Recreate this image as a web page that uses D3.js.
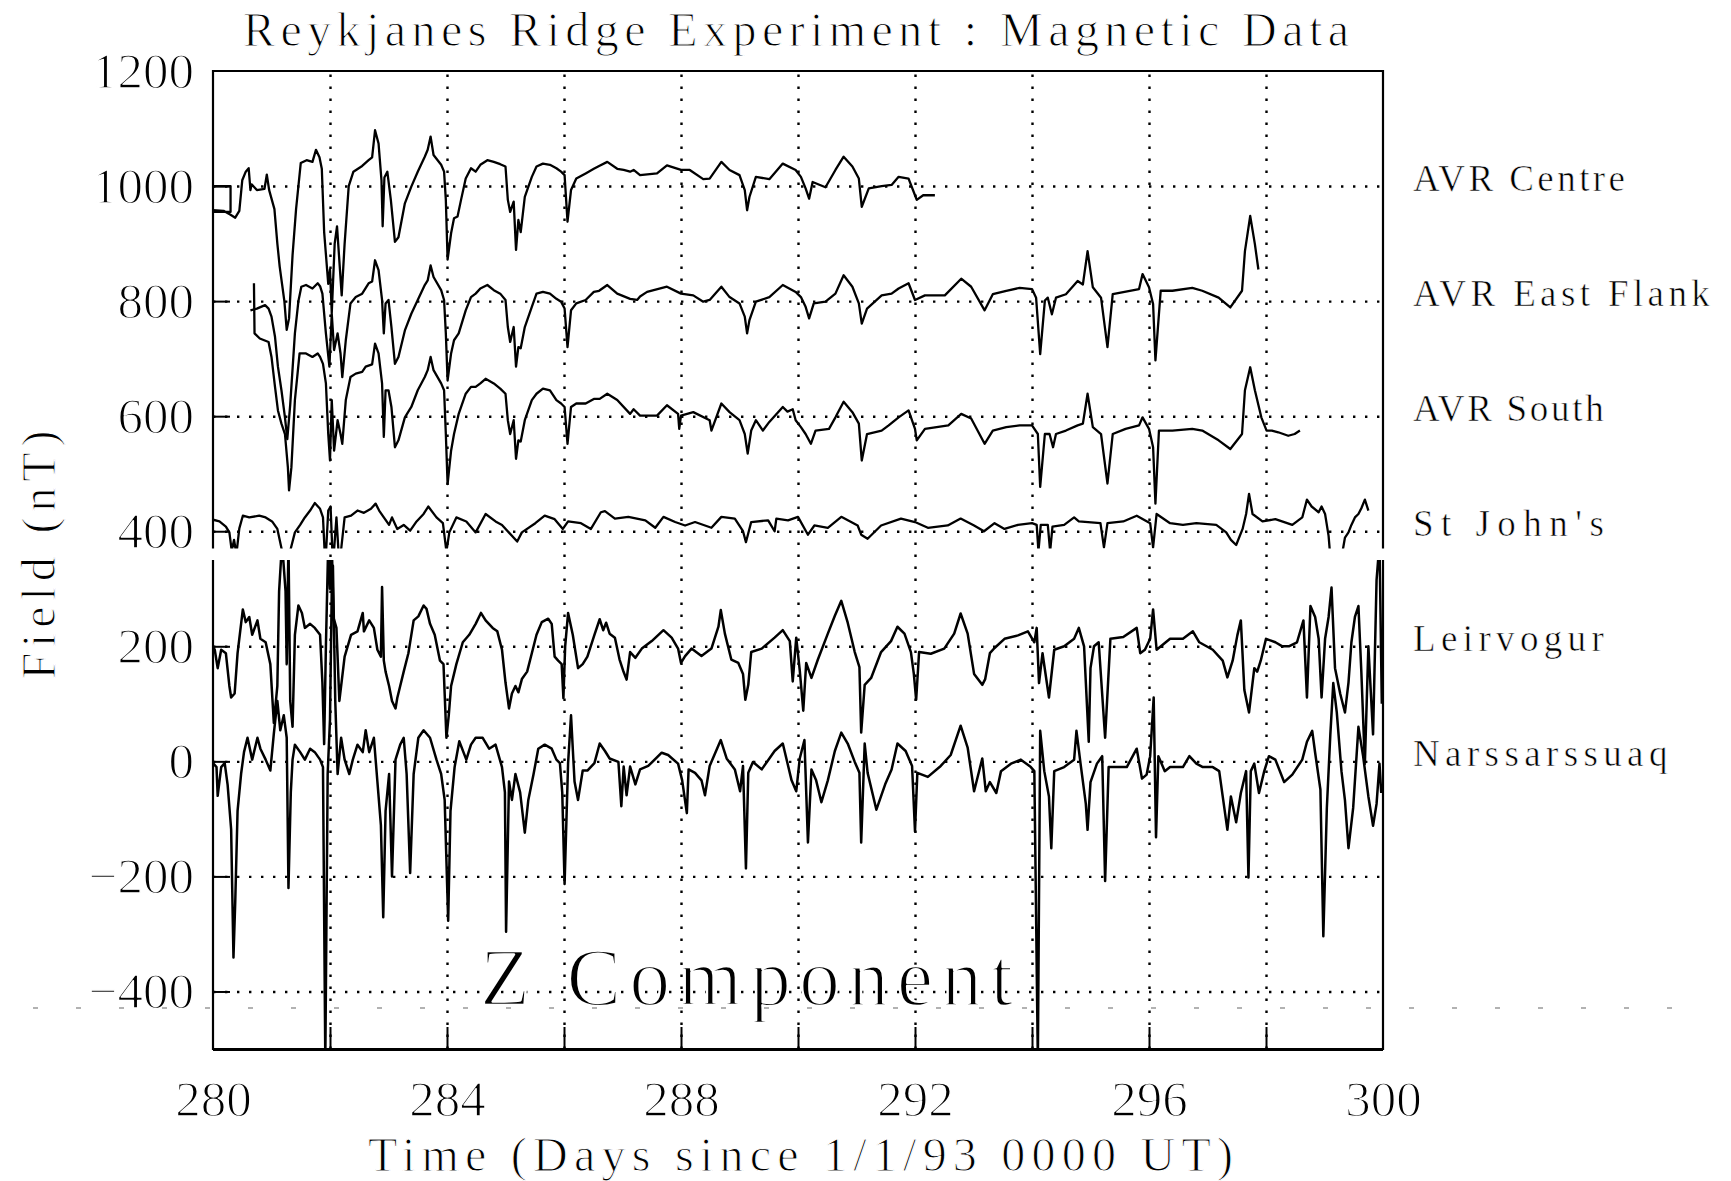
<!DOCTYPE html>
<html>
<head>
<meta charset="utf-8">
<script src="https://cdn.jsdelivr.net/npm/d3@7"></script>
<style>
  body { margin: 0; background: #fff; }
  text { fill: #000; }
</style>
</head>
<body>
<script>
// chart values, [day, nT]
var avrCentre = [[280.0,1000],[280.3,1000],[280.3,955],[280.0,955],[280.0,958],[280.18,957],[280.3,950],[280.38,945],[280.45,957],[280.5,1010],[280.56,1025],[280.61,1031],[280.64,993],[280.66,1003],[280.75,993],[280.88,995],[280.92,1020],[280.96,993],[281.05,960],[281.1,900],[281.14,860],[281.18,830],[281.22,800],[281.26,750],[281.3,770],[281.36,880],[281.42,960],[281.5,1040],[281.6,1045],[281.7,1042],[281.76,1063],[281.82,1050],[281.86,1030],[281.9,920],[281.97,830],[282.0,855],[282.03,780],[282.08,900],[282.12,930],[282.16,870],[282.2,810],[282.25,900],[282.32,1000],[282.4,1025],[282.55,1035],[282.66,1045],[282.72,1050],[282.77,1097],[282.83,1074],[282.88,1010],[282.9,930],[282.93,1015],[282.98,1025],[283.04,976],[283.11,903],[283.17,911],[283.28,970],[283.39,999],[283.5,1025],[283.62,1051],[283.67,1063],[283.72,1086],[283.77,1054],[283.9,1037],[283.95,1025],[283.98,976],[284.01,872],[284.07,918],[284.12,944],[284.18,947],[284.24,976],[284.32,1013],[284.41,1031],[284.49,1025],[284.57,1037],[284.69,1045],[284.8,1042],[284.91,1038],[285.0,1034],[285.04,976],[285.08,955],[285.14,973],[285.18,889],[285.22,941],[285.26,920],[285.33,981],[285.45,1016],[285.53,1034],[285.64,1039],[285.76,1037],[285.87,1031],[285.95,1025],[286.01,1019],[286.06,938],[286.12,993],[286.21,1013],[286.37,1022],[286.51,1030],[286.6,1035],[286.74,1042],[286.91,1030],[287.02,1028],[287.13,1025],[287.19,1028],[287.3,1019],[287.59,1022],[287.76,1036],[288.0,1028],[288.15,1028],[288.38,1012],[288.49,1013],[288.69,1042],[288.83,1028],[289.0,1019],[289.09,993],[289.13,958],[289.17,981],[289.28,1016],[289.51,1012],[289.74,1039],[289.96,1028],[290.05,1016],[290.13,996],[290.19,978],[290.25,1007],[290.47,998],[290.64,1028],[290.78,1051],[290.93,1034],[291.04,1013],[291.09,964],[291.21,996],[291.43,1000],[291.6,1002],[291.72,1016],[291.89,1013],[292.0,984],[292.03,976],[292.14,984],[292.34,984]];

var avrEastFlank = [[280.64,784],[280.75,787],[280.89,793],[280.95,787],[281.0,773],[281.06,738],[281.11,686],[281.17,645],[281.23,598],[281.27,560],[281.32,620],[281.4,744],[281.46,800],[281.51,825],[281.59,828],[281.7,822],[281.79,831],[281.83,826],[281.87,813],[281.93,744],[281.99,686],[282.03,778],[282.07,715],[282.13,744],[282.18,709],[282.21,668],[282.27,732],[282.35,796],[282.44,807],[282.55,813],[282.66,831],[282.72,834],[282.77,871],[282.83,854],[282.89,802],[282.92,744],[282.95,796],[283.0,802],[283.05,755],[283.11,691],[283.17,703],[283.28,749],[283.39,778],[283.5,802],[283.62,828],[283.67,836],[283.72,862],[283.77,842],[283.9,819],[283.95,802],[283.98,744],[284.01,662],[284.07,709],[284.12,732],[284.2,744],[284.32,784],[284.41,807],[284.49,813],[284.57,822],[284.69,828],[284.8,819],[284.91,813],[285.0,802],[285.04,755],[285.08,729],[285.14,755],[285.18,686],[285.22,720],[285.26,718],[285.33,755],[285.45,790],[285.53,813],[285.64,816],[285.76,813],[285.87,804],[285.95,799],[286.01,787],[286.06,720],[286.12,784],[286.21,796],[286.37,802],[286.51,816],[286.6,818],[286.74,828],[286.91,813],[287.13,804],[287.25,802],[287.3,808],[287.42,816],[287.76,825],[288.0,813],[288.21,810],[288.38,799],[288.49,802],[288.69,825],[288.83,807],[289.0,796],[289.09,773],[289.13,744],[289.17,767],[289.28,799],[289.51,807],[289.74,828],[289.96,816],[290.05,807],[290.13,790],[290.19,770],[290.27,796],[290.47,799],[290.64,813],[290.78,845],[290.93,825],[291.04,796],[291.09,761],[291.18,787],[291.43,810],[291.6,813],[291.72,822],[291.89,831],[292.0,802],[292.17,810],[292.51,810],[292.79,839],[292.96,825],[293.19,784],[293.33,812],[293.56,818],[293.79,823],[294.0,821],[294.07,806],[294.14,708],[294.22,801],[294.27,806],[294.34,777],[294.41,806],[294.58,812],[294.78,835],[294.87,829],[294.95,887],[295.04,824],[295.18,806],[295.29,720],[295.38,812],[295.83,821],[295.89,847],[296.0,824],[296.07,795],[296.11,697],[296.2,818],[296.4,818],[296.74,823],[296.91,818],[297.19,806],[297.39,789],[297.59,818],[297.64,887],[297.73,948],[297.81,899],[297.87,855]];

var avrSouth = [[280.7,831],[280.71,744],[280.8,735],[280.95,729],[281.0,703],[281.06,651],[281.11,610],[281.17,587],[281.23,569],[281.28,511],[281.3,471],[281.34,511],[281.4,628],[281.48,709],[281.59,709],[281.7,703],[281.79,709],[281.83,703],[281.88,691],[281.93,657],[281.97,569],[282.0,523],[282.03,628],[282.07,540],[282.13,593],[282.18,569],[282.21,552],[282.27,628],[282.35,668],[282.44,674],[282.55,677],[282.61,686],[282.72,690],[282.77,726],[282.83,709],[282.89,657],[282.92,564],[282.95,645],[283.0,645],[283.05,616],[283.11,546],[283.17,558],[283.28,598],[283.39,616],[283.5,645],[283.62,668],[283.67,680],[283.72,703],[283.77,680],[283.9,657],[283.95,645],[283.98,569],[284.01,482],[284.07,540],[284.12,569],[284.2,604],[284.32,639],[284.41,651],[284.49,651],[284.57,657],[284.66,665],[284.8,657],[284.91,648],[285.0,639],[285.04,593],[285.08,569],[285.14,593],[285.18,526],[285.22,558],[285.26,556],[285.33,593],[285.45,628],[285.53,639],[285.64,648],[285.76,645],[285.87,628],[285.95,622],[286.01,616],[286.06,552],[286.12,616],[286.21,622],[286.37,622],[286.51,630],[286.61,630],[286.74,639],[286.91,628],[287.13,604],[287.19,612],[287.3,601],[287.59,601],[287.76,619],[287.95,604],[287.97,578],[288.0,601],[288.21,607],[288.49,593],[288.52,575],[288.69,622],[288.83,607],[289.0,593],[289.09,569],[289.14,535],[289.2,575],[289.28,593],[289.4,575],[289.51,590],[289.74,616],[289.82,608],[289.91,612],[289.96,593],[290.05,581],[290.13,569],[290.22,552],[290.3,575],[290.53,578],[290.64,598],[290.78,625],[290.93,607],[291.04,587],[291.09,523],[291.18,569],[291.43,575],[291.55,584],[291.72,598],[291.89,610],[292.0,578],[292.03,558],[292.17,578],[292.57,584],[292.79,604],[292.96,596],[293.19,552],[293.33,575],[293.56,581],[293.79,584],[294.0,584],[294.1,569],[294.14,477],[294.22,569],[294.3,569],[294.36,546],[294.41,569],[294.58,575],[294.78,584],[294.87,587],[294.95,639],[295.04,581],[295.18,569],[295.29,483],[295.38,569],[295.6,578],[295.83,584],[295.89,598],[296.0,578],[296.07,546],[296.11,448],[296.17,575],[296.4,575],[296.74,578],[296.91,575],[297.19,558],[297.39,543],[297.59,569],[297.64,645],[297.73,685],[297.81,645],[297.92,598],[298.01,575],[298.1,575],[298.21,572],[298.38,566],[298.49,569],[298.58,575]];

var stJohns = [[280.0,420],[280.11,417],[280.22,408],[280.28,398],[280.32,366],[280.36,385],[280.4,360],[280.45,405],[280.51,427],[280.62,424],[280.79,427],[280.9,424],[281.01,417],[281.1,404],[281.18,366],[281.24,355],[281.32,366],[281.4,398],[281.49,411],[281.57,424],[281.66,436],[281.74,449],[281.83,439],[281.88,424],[281.92,340],[281.97,436],[282.01,443],[282.05,340],[282.11,424],[282.16,340],[282.25,424],[282.36,427],[282.47,436],[282.58,432],[282.7,439],[282.78,448],[282.84,436],[282.92,424],[283.01,411],[283.06,424],[283.15,404],[283.26,411],[283.37,401],[283.48,417],[283.6,430],[283.68,443],[283.82,424],[283.93,414],[283.99,365],[284.04,398],[284.16,424],[284.33,417],[284.49,398],[284.66,430],[284.83,417],[284.94,411],[285.2,382],[285.28,398],[285.51,414],[285.67,427],[285.84,421],[285.98,404],[286.07,417],[286.29,414],[286.46,404],[286.63,433],[286.7,435],[286.87,422],[287.1,425],[287.39,419],[287.56,406],[287.7,425],[287.9,416],[288.07,410],[288.24,416],[288.52,406],[288.69,425],[288.92,422],[289.06,400],[289.11,381],[289.2,416],[289.49,419],[289.6,400],[289.63,422],[289.83,419],[290.0,425],[290.17,394],[290.28,410],[290.51,406],[290.74,425],[291.02,410],[291.08,394],[291.19,387],[291.42,410],[291.76,422],[292.0,416],[292.22,406],[292.56,410],[292.78,422],[293.01,410],[293.18,400],[293.36,414],[293.53,404],[293.76,411],[294.0,414],[294.08,411],[294.11,365],[294.15,411],[294.27,411],[294.31,365],[294.35,408],[294.55,411],[294.72,424],[294.8,417],[295.17,414],[295.23,372],[295.29,414],[295.56,417],[295.79,427],[296.02,414],[296.07,372],[296.13,430],[296.36,414],[296.58,411],[296.81,414],[297.15,411],[297.32,398],[297.4,385],[297.49,376],[297.6,404],[297.66,430],[297.71,465],[297.77,430],[297.94,417],[298.16,421],[298.45,411],[298.62,424],[298.7,455],[298.78,443],[298.9,433],[298.95,443],[299.01,430],[299.07,392],[299.12,330],[299.2,340],[299.3,360],[299.35,389],[299.41,398],[299.46,411],[299.52,424],[299.58,430],[299.63,440],[299.69,455],[299.75,436]];

var leirvogur = [[280.0,200],[280.03,194],[280.08,162],[280.14,194],[280.22,188],[280.28,131],[280.31,111],[280.37,118],[280.42,188],[280.51,264],[280.56,242],[280.62,251],[280.67,220],[280.76,245],[280.81,213],[280.9,207],[280.98,169],[281.04,67],[281.1,131],[281.13,296],[281.18,380],[281.24,296],[281.26,169],[281.29,380],[281.32,105],[281.36,60],[281.4,220],[281.46,271],[281.52,258],[281.57,232],[281.66,239],[281.74,232],[281.83,220],[281.87,137],[281.9,30],[281.93,200],[281.97,380],[282.0,300],[282.03,380],[282.06,250],[282.11,232],[282.16,105],[282.25,182],[282.36,220],[282.47,226],[282.56,258],[282.58,226],[282.67,245],[282.75,232],[282.81,194],[282.87,182],[282.89,303],[282.92,175],[282.95,156],[283.01,131],[283.06,105],[283.12,92],[283.15,110],[283.2,131],[283.26,156],[283.34,188],[283.43,245],[283.51,252],[283.6,271],[283.65,265],[283.71,239],[283.79,220],[283.88,175],[283.94,169],[283.99,41],[284.03,80],[284.07,131],[284.16,169],[284.27,207],[284.38,220],[284.49,239],[284.58,258],[284.66,245],[284.78,232],[284.86,226],[284.94,194],[285.0,137],[285.06,92],[285.11,118],[285.17,131],[285.22,120],[285.28,143],[285.37,156],[285.45,188],[285.53,220],[285.62,242],[285.73,248],[285.79,239],[285.84,182],[285.9,175],[285.96,169],[285.99,110],[286.02,200],[286.07,258],[286.15,220],[286.24,162],[286.32,169],[286.4,182],[286.52,220],[286.61,247],[286.67,228],[286.72,241],[286.78,222],[286.87,215],[286.95,177],[287.01,158],[287.07,142],[287.13,190],[287.22,180],[287.33,196],[287.5,209],[287.7,228],[287.84,215],[287.95,196],[288.0,171],[288.07,183],[288.18,196],[288.35,183],[288.52,196],[288.64,234],[288.68,263],[288.75,222],[288.86,177],[288.98,171],[289.06,152],[289.1,107],[289.15,133],[289.2,190],[289.38,196],[289.6,215],[289.74,228],[289.86,209],[289.91,139],[289.97,215],[290.03,158],[290.09,88],[290.14,171],[290.23,145],[290.34,177],[290.51,222],[290.63,253],[290.74,279],[290.85,241],[290.97,190],[291.05,164],[291.08,50],[291.14,133],[291.25,145],[291.42,190],[291.59,209],[291.7,234],[291.82,222],[291.93,190],[291.98,152],[292.02,107],[292.07,190],[292.27,187],[292.5,196],[292.67,222],[292.78,257],[292.9,222],[293.01,152],[293.15,133],[293.2,143],[293.28,188],[293.36,197],[293.53,213],[293.76,219],[293.93,226],[294.04,207],[294.08,232],[294.12,136],[294.18,188],[294.29,111],[294.38,194],[294.55,200],[294.72,213],[294.8,232],[294.89,200],[294.97,34],[295.0,162],[295.06,200],[295.14,207],[295.25,41],[295.34,213],[295.56,216],[295.79,232],[295.85,188],[295.93,194],[296.02,213],[296.07,264],[296.13,194],[296.36,213],[296.58,213],[296.75,226],[296.86,207],[297.09,194],[297.26,175],[297.34,146],[297.43,175],[297.51,219],[297.57,245],[297.63,124],[297.71,85],[297.8,162],[297.85,156],[297.91,175],[298.0,213],[298.16,207],[298.28,200],[298.39,200],[298.53,207],[298.64,245],[298.7,111],[298.76,270],[298.84,251],[298.9,213],[298.95,111],[299.01,213],[299.07,251],[299.12,302],[299.18,162],[299.27,117],[299.35,85],[299.41,137],[299.46,207],[299.52,251],[299.58,270],[299.63,155],[299.69,-4],[299.75,200],[299.83,47],[299.89,315],[299.94,380],[299.98,100]];

var narssarssuaq = [[280.0,-3],[280.06,-10],[280.08,-60],[280.14,-10],[280.2,-3],[280.25,-41],[280.31,-118],[280.35,-341],[280.38,-245],[280.42,-86],[280.48,-22],[280.53,16],[280.59,41],[280.67,3],[280.76,41],[280.81,22],[280.9,3],[280.98,-16],[281.04,48],[281.1,105],[281.15,54],[281.21,80],[281.26,41],[281.29,-220],[281.33,-54],[281.36,3],[281.4,29],[281.49,16],[281.57,3],[281.66,22],[281.74,16],[281.83,3],[281.88,-10],[281.92,-520],[281.96,-22],[282.0,73],[282.03,296],[282.05,340],[282.09,105],[282.13,-22],[282.19,41],[282.25,3],[282.33,-22],[282.39,3],[282.47,29],[282.56,16],[282.61,54],[282.67,16],[282.75,41],[282.81,-35],[282.87,-111],[282.91,-271],[282.95,-86],[283.01,-22],[283.06,-200],[283.12,3],[283.2,29],[283.26,41],[283.31,-22],[283.37,-194],[283.43,-22],[283.51,41],[283.6,54],[283.71,41],[283.82,3],[283.9,-22],[283.96,-67],[284.02,-277],[284.06,-86],[284.13,-10],[284.21,35],[284.33,3],[284.41,29],[284.49,41],[284.61,41],[284.72,22],[284.83,29],[284.94,-10],[284.99,-54],[285.01,-296],[285.06,-35],[285.11,-67],[285.17,-22],[285.25,-54],[285.33,-124],[285.39,-67],[285.48,-22],[285.56,22],[285.67,29],[285.79,22],[285.87,3],[285.93,-3],[285.97,-54],[286.01,-213],[286.07,-3],[286.12,80],[286.18,-35],[286.24,-67],[286.32,-16],[286.4,-16],[286.52,-3],[286.61,31],[286.7,18],[286.78,5],[286.93,-1],[286.98,-78],[287.02,-9],[287.07,-59],[287.13,-9],[287.22,-40],[287.3,-14],[287.44,-8],[287.67,15],[287.78,11],[287.95,-4],[288.02,-33],[288.1,-90],[288.13,-14],[288.24,-20],[288.35,-33],[288.41,-59],[288.49,-8],[288.68,37],[288.78,5],[288.92,-14],[289.01,-52],[289.06,-8],[289.11,-186],[289.15,-20],[289.23,-1],[289.38,-14],[289.6,18],[289.74,31],[289.89,-33],[289.97,-52],[290.03,5],[290.11,37],[290.17,-141],[290.23,-14],[290.31,-33],[290.4,-71],[290.51,-33],[290.63,18],[290.74,50],[290.85,31],[290.97,-1],[291.05,-20],[291.08,-141],[291.14,31],[291.19,-20],[291.34,-84],[291.49,-40],[291.6,-14],[291.7,31],[291.84,18],[291.95,-8],[292.0,-122],[292.04,-20],[292.22,-27],[292.44,-8],[292.61,11],[292.78,62],[292.9,24],[293.01,-52],[293.15,5],[293.21,-52],[293.28,-36],[293.39,-55],[293.47,-17],[293.64,-4],[293.81,3],[293.98,-10],[294.04,-17],[294.1,-520],[294.14,53],[294.21,-17],[294.29,-61],[294.33,-151],[294.38,-17],[294.55,-10],[294.72,3],[294.76,53],[294.83,-4],[294.92,-74],[294.95,-119],[295.0,-36],[295.11,-4],[295.2,9],[295.25,-208],[295.31,-10],[295.45,-10],[295.62,-10],[295.79,22],[295.88,-30],[295.96,-23],[296.02,9],[296.08,111],[296.12,-132],[296.16,9],[296.27,-17],[296.36,-10],[296.58,-10],[296.69,9],[296.81,-4],[296.92,-10],[297.09,-10],[297.2,-17],[297.26,-61],[297.34,-119],[297.4,-61],[297.49,-106],[297.57,-55],[297.66,-17],[297.7,-202],[297.74,-17],[297.8,-4],[297.88,-55],[297.97,-17],[298.05,9],[298.16,3],[298.31,-36],[298.45,-23],[298.62,3],[298.7,34],[298.79,53],[298.84,15],[298.93,-49],[298.98,-304],[299.04,-81],[299.1,47],[299.15,136],[299.21,85],[299.29,-17],[299.35,-68],[299.41,-151],[299.49,-81],[299.58,60],[299.66,9],[299.75,-61],[299.83,-112],[299.89,-74],[299.94,-4],[299.97,-55]];

// station labels and the level each one sits at
var stationNames = ["AVR Centre", "AVR East Flank", "AVR South", "St John's", "Leirvogur", "Narssarssuaq"];
var stationLevels = [1000, 800, 600, 400, 200, 0];

// ticks
var xTickLabels = [280, 284, 288, 292, 296, 300];
var xGridDays = [282, 284, 286, 288, 290, 292, 294, 296, 298];
var yTickLabels = [1200, 1000, 800, 600, 400, 200, 0, -200, -400];
var yGridValues = [1000, 800, 600, 400, 200, 0, -200, -400];

// the two stacked panels: upper clipped at 370 nT, lower at 350 nT
var upperFloor = 370, lowerCeiling = 350;

var serif = "'Liberation Serif', 'DejaVu Serif', serif";

// set the dimensions of the graph
var W = 1731, H = 1181;
var plot = {left: 213, right: 1383, top: 71, bottom: 1049};

// set the ranges
var x = d3.scaleLinear().domain([280, 300]).range([plot.left, plot.right]);
var y = d3.scaleLinear().domain([-500, 1200]).range([plot.bottom, plot.top]);

var svg = d3.select("body").append("svg")
    .attr("width", W)
    .attr("height", H);

// thin the glyphs a bit, the original was drawn with a pen font
function thin(sel, w) {
  sel.attr("stroke", "#fff").attr("stroke-width", w).attr("stroke-linejoin", "round");
}

var defs = svg.append("defs");
defs.append("clipPath").attr("id", "clipUpper")
  .append("rect")
    .attr("x", plot.left).attr("y", plot.top)
    .attr("width", plot.right - plot.left)
    .attr("height", y(upperFloor) - plot.top);
defs.append("clipPath").attr("id", "clipLower")
  .append("rect")
    .attr("x", plot.left).attr("y", y(lowerCeiling))
    .attr("width", plot.right - plot.left)
    .attr("height", plot.bottom - y(lowerCeiling));

// dotted grid, vertical
var gx = svg.append("g")
    .attr("transform", "translate(0," + plot.bottom + ")")
    .call(d3.axisBottom(x).tickValues(xGridDays).tickSize(-(plot.bottom - plot.top)).tickFormat(""));
gx.select(".domain").remove();
gx.selectAll("line").attr("stroke", "#000").attr("stroke-width", 2.4).attr("stroke-dasharray", "2.4,9.6");

// dotted grid, horizontal
var gy = svg.append("g")
    .attr("transform", "translate(" + plot.left + ",0)")
    .call(d3.axisLeft(y).tickValues(yGridValues).tickSize(-(plot.right - plot.left)).tickFormat(""));
gy.select(".domain").remove();
gy.selectAll("line").attr("stroke", "#000").attr("stroke-width", 2.4).attr("stroke-dasharray", "2.4,9.6");

// short solid inward ticks
var tb = svg.append("g")
    .attr("transform", "translate(0," + plot.bottom + ")")
    .call(d3.axisBottom(x).tickValues(xGridDays).tickSize(-22).tickFormat(""));
tb.select(".domain").remove();
tb.selectAll("line").attr("stroke", "#000").attr("stroke-width", 2);

var tl = svg.append("g")
    .attr("transform", "translate(" + plot.left + ",0)")
    .call(d3.axisLeft(y).tickValues(yGridValues).tickSize(-17).tickFormat(""));
tl.select(".domain").remove();
tl.selectAll("line").attr("stroke", "#000").attr("stroke-width", 2);

// tick labels
var xl = svg.append("g")
    .attr("transform", "translate(0," + plot.bottom + ")")
    .call(d3.axisBottom(x).tickValues(xTickLabels).tickSize(0).tickPadding(31).tickFormat(d3.format("d")));
xl.select(".domain").remove();
xl.selectAll("text").attr("font-family", serif).attr("font-size", 51).attr("fill", "#000").call(thin, 1.4);

var yl = svg.append("g")
    .attr("transform", "translate(" + plot.left + ",0)")
    .call(d3.axisLeft(y).tickValues(yTickLabels).tickSize(0).tickPadding(19).tickFormat(d3.format("d")));
yl.select(".domain").remove();
yl.selectAll("text").attr("font-family", serif).attr("font-size", 51).attr("fill", "#000").call(thin, 1.4);

// frame: upper and lower panels share the sides, with a gap between
var frame = svg.append("g").attr("stroke", "#000").attr("fill", "none").attr("stroke-width", 2.2);
frame.append("path")
    .attr("d", "M" + plot.left + "," + y(upperFloor) + "V" + plot.top + "H" + plot.right + "V" + y(upperFloor));
frame.append("path")
    .attr("d", "M" + plot.left + "," + y(lowerCeiling) + "V" + plot.bottom + "H" + plot.right + "V" + y(lowerCeiling));
frame.append("line")
    .attr("x1", plot.left).attr("x2", plot.right)
    .attr("y1", plot.bottom + 1).attr("y2", plot.bottom + 1)
    .attr("stroke-width", 2);

// data lines
var line = d3.line()
    .x(function(d) { return x(d[0]); })
    .y(function(d) { return y(d[1]); });

var upperSeries = [avrCentre, avrEastFlank, avrSouth, stJohns];
var lowerSeries = [leirvogur, narssarssuaq];

svg.append("g").attr("clip-path", "url(#clipUpper)")
  .selectAll("path")
    .data(upperSeries)
  .enter().append("path")
    .attr("d", line)
    .attr("fill", "none")
    .attr("stroke", "#000")
    .attr("stroke-width", 2.3)
    .attr("stroke-linejoin", "round");

svg.append("g").attr("clip-path", "url(#clipLower)")
  .selectAll("path")
    .data(lowerSeries)
  .enter().append("path")
    .attr("d", line)
    .attr("fill", "none")
    .attr("stroke", "#000")
    .attr("stroke-width", 2.5)
    .attr("stroke-linejoin", "round");

// station names at the right
svg.append("g").selectAll("text")
    .data(stationNames)
  .enter().append("text")
    .attr("x", plot.right + 30)
    .attr("y", function(d, i) { return y(stationLevels[i]) + 5; })
    .attr("font-family", serif)
    .attr("font-size", 37)
    .attr("textLength", function(d) { return d.length * 21.2; })
    .attr("lengthAdjust", "spacing")
    .text(function(d) { return d; })
    .call(thin, 0.6);

// titles
svg.append("text")
    .attr("x", 243).attr("y", 46)
    .attr("font-family", serif).attr("font-size", 48)
    .attr("textLength", 1106).attr("lengthAdjust", "spacing")
    .text("Reykjanes Ridge Experiment : Magnetic Data")
    .call(thin, 1.1);

svg.append("text")
    .attr("x", 368).attr("y", 1171)
    .attr("font-family", serif).attr("font-size", 48)
    .attr("textLength", 865).attr("lengthAdjust", "spacing")
    .text("Time (Days since 1/1/93 0000 UT)")
    .call(thin, 1.1);

svg.append("text")
    .attr("transform", "translate(55,555) rotate(-90)")
    .attr("text-anchor", "middle")
    .attr("font-family", serif).attr("font-size", 48)
    .attr("textLength", 249).attr("lengthAdjust", "spacing")
    .text("Field (nT)")
    .call(thin, 1.1);

svg.append("text")
    .attr("x", 480).attr("y", 1005)
    .attr("font-family", serif).attr("font-size", 82)
    .attr("textLength", 533).attr("lengthAdjust", "spacing")
    .text("Z Component")
    .call(thin, 2.4);

// faint scan streak under the plot
svg.append("line")
    .attr("x1", 33).attr("x2", 1680)
    .attr("y1", 1008).attr("y2", 1008)
    .attr("stroke", "#000").attr("stroke-width", 1.2)
    .attr("stroke-dasharray", "5,38")
    .attr("opacity", 0.6);
</script>
</body>
</html>
